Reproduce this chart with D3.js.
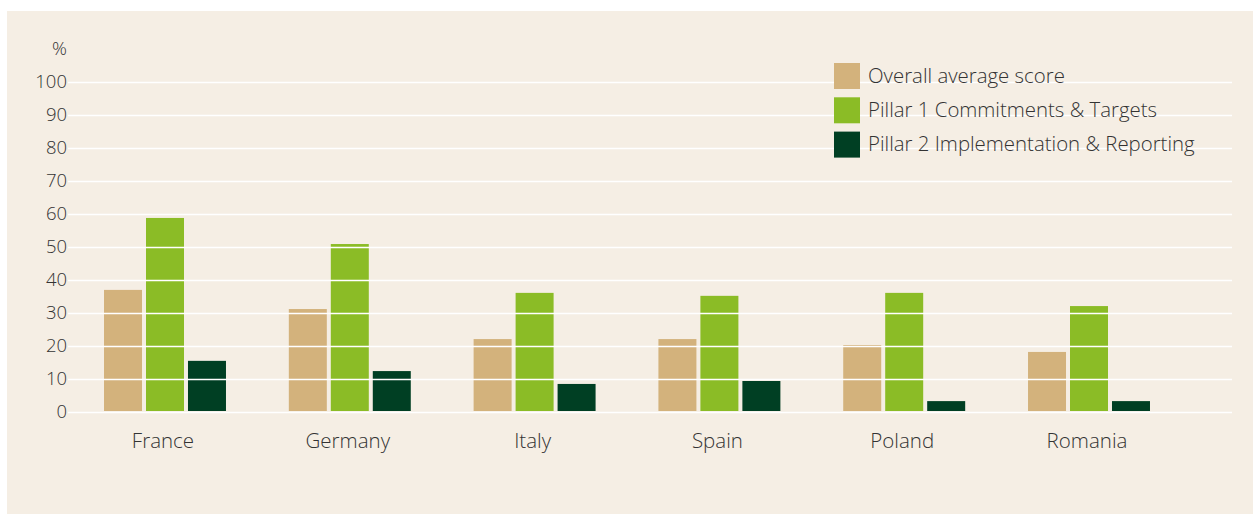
<!DOCTYPE html>
<html><head><meta charset="utf-8">
<script src="https://cdn.jsdelivr.net/npm/d3@7"></script>
<style>
html,body{margin:0;padding:0;background:#fff;}
svg{display:block;}
text{font-family:"Open Sans",sans-serif;font-weight:300;fill:#333;}
</style></head><body>
<svg id="c" width="1253" height="514"></svg>
<script>
const categories = ["France","Germany","Italy","Spain","Poland","Romania"];
const seriesNames = ["Overall average score","Pillar 1 Commitments & Targets","Pillar 2 Implementation & Reporting"];
const overall = [37, 31.2, 22.1, 22.1, 20.3, 18.2];
const pillar1 = [58.8, 50.9, 36.1, 35.2, 36.1, 32.1];
const pillar2 = [15.5, 12.4, 8.5, 9.4, 3.3, 3.3];
const yTicks = [0,10,20,30,40,50,60,70,80,90,100];
const colors = ["#d3b27c","#8bbc26","#003f23"];

const series = [overall, pillar1, pillar2];
const svg = d3.select("#c");
svg.append("rect").attr("x",7).attr("y",11).attr("width",1246).attr("height",503).attr("fill","#f5eee4");

const y = d3.scaleLinear().domain([0,100]).range([412,82]);
const x0 = d3.scaleBand().domain(categories).range([68.9,1185.1]).paddingInner(0.34).paddingOuter(0.19);
const x1 = d3.scaleBand().domain([0,1,2]).range([0,x0.bandwidth()]).paddingInner(0.095);

// bars
const g = svg.append("g");
categories.forEach((c,i)=>{
  series.forEach((s,j)=>{
    g.append("rect")
      .attr("x", x0(c)+x1(j))
      .attr("y", y(s[i]))
      .attr("width", x1.bandwidth())
      .attr("height", y(0)-y(s[i]) - 1)
      .attr("fill", colors[j]);
  });
});

// gridlines over bars
const yAxis = d3.axisLeft(y).tickValues(yTicks).tickSize(-(1232-68)).tickPadding(1);
const ag = svg.append("g").attr("transform","translate(68,0)").call(yAxis);
ag.select(".domain").remove();
ag.selectAll(".tick line").attr("stroke","#ffffff").attr("stroke-width",1.6);
ag.selectAll(".tick text").attr("font-size","18.5px").attr("fill","#333").attr("x",-1)
  .style("font-family","'Open Sans',sans-serif").style("font-weight","300");

svg.append("text").attr("x",67).attr("y",55).attr("text-anchor","end").attr("font-size","18.5px").text("%");

// x labels
const xAxis = d3.axisBottom(x0).tickSize(0).tickPadding(0);
const xg = svg.append("g").attr("transform","translate(-2,448)").call(xAxis);
xg.select(".domain").remove();
xg.selectAll(".tick text").attr("font-size","20.5px").attr("fill","#333").attr("dy","0").attr("y",0)
  .style("font-family","'Open Sans',sans-serif").style("font-weight","300");

// legend
const lg = svg.append("g").attr("transform","translate(834,63)");
seriesNames.forEach((n,i)=>{
  lg.append("rect").attr("x",0).attr("y",i*34.3).attr("width",26).attr("height",26).attr("fill",colors[i]);
  lg.append("text").attr("x",34).attr("y",i*34.3+19.5).attr("font-size","20.4px").text(n);
});
</script>
</body></html>
